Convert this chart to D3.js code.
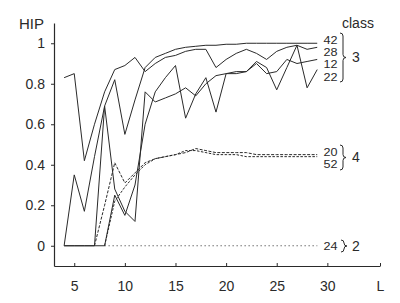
<!DOCTYPE html>
<html><head><meta charset="utf-8">
<script src="https://cdn.jsdelivr.net/npm/d3@7"></script>
<style>body{margin:0;background:#fff}svg{display:block}</style>
</head><body>
<script>
const L = d3.range(4, 30);
// class 3 series
const s42 = [0,0.35,0.17,0.44,0.69,0.82,0.55,0.72,0.88,0.93,0.95,0.97,0.98,0.985,0.99,0.99,0.995,0.995,1,1,1,1,1,1,1,1];
const s28 = [0.83,0.85,0.42,0.6,0.76,0.87,0.89,0.93,0.86,0.9,0.93,0.94,0.96,0.97,0.97,0.88,0.92,0.95,0.97,0.95,0.92,0.96,0.98,0.99,0.97,0.98];
const s12 = [0,0,0,0,0.69,0.28,0.17,0.12,0.76,0.71,0.73,0.75,0.78,0.74,0.8,0.84,0.85,0.85,0.86,0.9,0.85,0.86,0.92,0.9,0.91,0.92];
const s22 = [0,0,0,0,0,0.25,0.15,0.3,0.6,0.76,0.83,0.89,0.63,0.75,0.83,0.66,0.85,0.86,0.86,0.91,0.88,0.77,0.88,0.99,0.78,0.87];
// class 4 series
const s20 = [null,null,null,0,0.2,0.41,0.31,0.36,0.41,0.43,0.44,0.45,0.46,0.48,0.47,0.46,0.46,0.46,0.46,0.45,0.45,0.45,0.45,0.45,0.45,0.45];
const s52 = [null,null,null,null,0,0.22,0.29,0.35,0.40,0.43,0.44,0.45,0.47,0.47,0.46,0.45,0.45,0.45,0.44,0.44,0.44,0.44,0.44,0.44,0.44,0.44];
// class 2 series
const s24 = [null,null,null,null,0,0,0,0,0,0,0,0,0,0,0,0,0,0,0,0,0,0,0,0,0,0];

const xTicks = [5,10,15,20,25,30];
const yTicks = [0,0.2,0.4,0.6,0.8,1];
const groups = [["42","28","12","22"], ["20","52"], ["24"]];
const classNames = ["3","4","2"];

const W = 400, H = 303;
const svg = d3.select("body").append("svg").attr("width", W).attr("height", H);
const x = d3.scaleLinear().domain([3, 35.2]).range([54, 380]);
const y = d3.scaleLinear().domain([-0.1, 1.1]).range([266, 23]);
const col = "#2a2a2a";
const font = "Liberation Sans, Arial, sans-serif";

// axes
const xa = svg.append("g").attr("transform", "translate(0,266)")
  .call(d3.axisTop(x).tickValues([...xTicks, 35.2]).tickSize(3).tickSizeOuter(0).tickFormat(d => d > 34 ? "L" : d));
xa.selectAll("text").attr("y", 15).attr("dy", "0.71em");
const ya = svg.append("g").attr("transform", "translate(54,0)")
  .call(d3.axisLeft(y).tickValues(yTicks).tickSize(3).tickSizeOuter(0).tickFormat(d => d));
ya.selectAll("text").attr("x", -9);
[xa, ya].forEach(g => {
  g.select(".domain").attr("stroke", col).attr("stroke-width", 1.2);
  g.selectAll(".tick line").attr("stroke", col);
  g.selectAll("text").attr("fill", col).style("font-family", font).style("font-size", "14px");
});
svg.append("text").attr("x", 19).attr("y", 29).text("HIP")
  .attr("fill", col).style("font-family", font).style("font-size", "15px");

const line = d3.line().defined(d => d[1] != null).x(d => x(d[0])).y(d => y(d[1]));
const data = [s42, s28, s12, s22, s20, s52, s24];
const dashes = [null, null, null, null, "3,1.5", "2.5,1.5", "1,3"];
data.forEach((s, i) => {
  svg.append("path").datum(L.map((l, j) => [l, s[j]]))
    .attr("d", line).attr("fill", "none").attr("stroke", col)
    .attr("stroke-width", 1).attr("stroke-dasharray", dashes[i]);
});

// labels
const lab = (t, xx, yy, size) => svg.append("text").attr("x", xx).attr("y", yy).text(t)
  .attr("fill", col).style("font-family", font).style("font-size", (size || 14) + "px");
lab("class", 342, 28);
const groupY = [43.5, 156, 250];
groups.forEach((g, gi) => {
  g.forEach((n, k) => lab(n, 323.5, groupY[gi] + k * 12.4, 10.5).style("font-size", "10.5px").attr("textLength", 14).attr("lengthAdjust", "spacingAndGlyphs"));
});
function brace(xx, y0, y1) {
  const m = (y0 + y1) / 2;
  const p = `M${xx},${y0} Q${xx+3},${y0} ${xx+3},${y0+3} L${xx+3},${m-3} Q${xx+3},${m} ${xx+6},${m} Q${xx+3},${m} ${xx+3},${m+3} L${xx+3},${y1-3} Q${xx+3},${y1} ${xx},${y1}`;
  svg.append("path").attr("d", p).attr("fill", "none").attr("stroke", col).attr("stroke-width", 1);
}
brace(340, 33, 82);
brace(340, 145, 170);
brace(341, 240, 252);
lab(classNames[0], 352, 62);
lab(classNames[1], 352, 162);
lab(classNames[2], 352, 251);
</script>
</body></html>
